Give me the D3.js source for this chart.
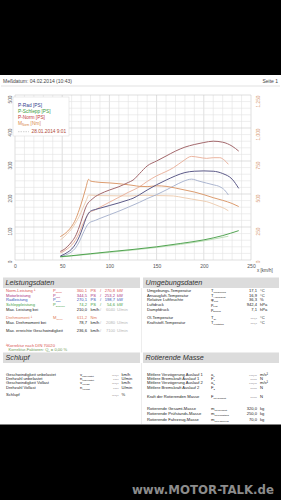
<!DOCTYPE html>
<html><head><meta charset="utf-8">
<script src="https://cdn.jsdelivr.net/npm/d3@7"></script>
<style>html,body{margin:0;padding:0;background:#000;overflow:hidden}svg{display:block;font-family:"Liberation Sans",Arial,sans-serif}</style>
</head><body><svg id="c" width="281" height="500"></svg>
<script>
// ---------- chart data ----------
const xTicks = [0, 50, 100, 150, 200, 250];
const yTicksLeft = [0, 100, 200, 300, 400, 500];
const yTicksRight = [0, 250, 500, 750, 1000, 1250];

// current run (04.02.2014)
const speedNow = [48,52,56,60,64,68,72,75,78,80,85,90,100,110,120,125,132,140,150,160,170,180,190,200,210,220,230,237];
const pNormNow = [26,32,42,55,72,100,135,160,175,180,192,200,212,222,235,242,262,285,300,315,330,342,350,356,360,357,345,330];
const pRadNow  = [12,17,24,33,48,70,100,125,142,148,153,157,165,173,182,187,198,212,228,242,255,265,269,270,269,262,245,217];
const mNormNow = [177,195,220,255,305,380,470,545,611,598,592,588,584,578,570,565,558,556,562,558,545,530,515,495,472,452,428,405];
const speedDragNow = [48,60,80,100,125,150,175,200,220,237];
const pDragNow = [10,13,19,25,32,40,50,61,74,89];

// comparison run (28.01.2014 9:01)
const speedRef = [48,52,56,60,64,68,72,76,78,85,90,100,110,120,132,140,150,160,168,178,187,195,203,210,217,222,226];
const pNormRef = [22,27,35,45,60,82,110,132,142,152,160,175,190,205,222,238,255,268,280,300,314,311,308,310,310,302,290];
const pRadRef  = [10,13,18,25,36,55,80,103,111,120,126,137,148,160,175,186,198,212,224,238,245,239,233,228,222,212,197];
const mNormRef = [152,175,205,235,280,330,395,460,492,490,488,487,486,485,489,490,488,487,485,473,462,452,442,425,405,390,373];
const speedDragRef = [48,100,150,200,226];
const pDragRef = [9,23,38,58,72];

// ---------- setup ----------
const svg = d3.select("#c");
svg.append("rect").attr("x",0).attr("y",0).attr("width",281).attr("height",500).attr("fill","#000");
svg.append("rect").attr("x",0).attr("y",75).attr("width",281).attr("height",349.5).attr("fill","#fff");

function txt(x, y, str, o = {}) {
  const s = o.size || 4.1;
  const t = svg.append("text").attr("x", x).attr("y", y).attr("font-size", s)
    .attr("fill", o.color || "#222").attr("text-anchor", o.anchor || "start");
  if (o.italic) t.attr("font-style", "italic");
  if (o.weight) t.attr("font-weight", o.weight);
  t.append("tspan").text(str);
  if (o.sub) t.append("tspan").attr("font-size", s * 0.62).attr("dy", s * 0.25).text(o.sub);
  return t;
}

// header
txt(3, 82.6, "Meßdatum: 04.02.2014 (10:43)", {size: 5, color: "#444"});
txt(278, 82.6, "Seite 1", {size: 5, color: "#444", anchor: "end"});
svg.append("line").attr("x1",1).attr("x2",280).attr("y1",86).attr("y2",86).attr("stroke","#cfcfcf").attr("stroke-width",0.6);

// scales
const x = d3.scaleLinear().domain([0, 250]).range([15, 251]);
const yL = d3.scaleLinear().domain([0, 500]).range([260, 95]);
const yR = d3.scaleLinear().domain([0, 1250]).range([260, 95]);

// grid
const grid = svg.append("g");
d3.range(0, 251, 10).forEach(v => {
  grid.append("line").attr("x1", x(v)).attr("x2", x(v)).attr("y1", yL(500)).attr("y2", yL(0))
    .attr("stroke", v % 50 === 0 ? "#c9c9c9" : "#e2e2e2").attr("stroke-width", 0.6);
});
d3.range(0, 501, 20).forEach(v => {
  grid.append("line").attr("x1", x(0)).attr("x2", x(250)).attr("y1", yL(v)).attr("y2", yL(v))
    .attr("stroke", v % 100 === 0 ? "#c9c9c9" : "#e2e2e2").attr("stroke-width", 0.6);
});

// axes
const gx = svg.append("g").attr("transform", "translate(0,264)")
  .call(d3.axisBottom(x).tickValues(xTicks).tickSize(0).tickPadding(0));
gx.select(".domain").remove();
gx.selectAll("text").attr("font-size", 5).attr("fill", "#555").attr("font-family", "Liberation Sans, Arial, sans-serif").attr("dy", "0.71em");
txt(257, 271.5, "x [km/h]", {size: 4.5, color: "#444"});

const gl = svg.append("g").attr("transform", "translate(12,0)")
  .call(d3.axisLeft(yL).tickValues(yTicksLeft).tickSize(0).tickPadding(0));
gl.select(".domain").remove();
gl.selectAll("text").attr("x", 0).attr("y", 0).attr("dy", 0).attr("text-anchor", "end")
  .attr("transform", "rotate(-90)").attr("font-size", 4.8).attr("fill", "#666")
  .attr("font-family", "Liberation Sans, Arial, sans-serif");

const gr = svg.append("g").attr("transform", "translate(260,0)")
  .call(d3.axisRight(yR).tickValues(yTicksRight).tickSize(0).tickPadding(0));
gr.select(".domain").remove();
gr.selectAll("text").attr("x", 0).attr("y", 0).attr("dy", 0).attr("text-anchor", "end")
  .attr("transform", "rotate(-90)").attr("font-size", 4.8).attr("fill", "#d8a07a")
  .attr("font-family", "Liberation Sans, Arial, sans-serif");

// curves
const lineL = d3.line().x(d => x(d[0])).y(d => yL(d[1])).curve(d3.curveMonotoneX);
const lineR = d3.line().x(d => x(d[0])).y(d => yR(d[1])).curve(d3.curveMonotoneX);
const zip = (a, b) => a.map((v, i) => [v, b[i]]);
const curves = [
  {d: zip(speedDragRef, pDragRef), f: lineL, c: "#b5dcb0", w: 0.9},
  {d: zip(speedRef, mNormRef), f: lineR, c: "#ecc9ab", w: 0.9},
  {d: zip(speedRef, pRadRef), f: lineL, c: "#a3aecb", w: 0.9},
  {d: zip(speedRef, pNormRef), f: lineL, c: "#e9ad95", w: 0.9},
  {d: zip(speedDragNow, pDragNow), f: lineL, c: "#3f9a3f", w: 0.9},
  {d: zip(speedNow, mNormNow), f: lineR, c: "#d8915f", w: 0.9},
  {d: zip(speedNow, pRadNow), f: lineL, c: "#5c5a88", w: 1},
  {d: zip(speedNow, pNormNow), f: lineL, c: "#a3686c", w: 1}
];
curves.forEach(k => svg.append("path").attr("d", k.f(k.d)).attr("fill", "none")
  .attr("stroke", k.c).attr("stroke-width", k.w).attr("stroke-linejoin", "round"));

// legend
svg.append("rect").attr("x", 13).attr("y", 97).attr("width", 56).attr("height", 39)
  .attr("fill", "#fff").attr("stroke", "#d6d6d6").attr("stroke-width", 0.5);
txt(18, 107.3, "P-Rad [PS]", {size: 4.8, color: "#34408e"});
txt(18, 113.2, "P-Schlepp [PS]", {size: 4.8, color: "#3a9a3a"});
txt(18, 119.1, "P-Norm [PS]", {size: 4.8, color: "#c23a3a"});
txt(18, 125.0, "M", {size: 4.8, color: "#d8884a", sub: "Norm"}).append("tspan").attr("dy", -1.2).text(" [Nm]");
svg.append("line").attr("x1", 18).attr("x2", 29).attr("y1", 131.7).attr("y2", 131.7)
  .attr("stroke", "#bdbdbd").attr("stroke-width", 0.7).attr("stroke-dasharray", "1.5,1");
txt(31.5, 133.3, "28.01.2014 9:01", {size: 4.8, color: "#b04a3a"});

// ---------- tables ----------
function bar(x0, w, y0, title) {
  svg.append("rect").attr("x", x0).attr("y", y0).attr("width", w).attr("height", 10.5).attr("fill", "#dcdcdc");
  txt(x0 + 2.5, y0 + 7.8, title, {size: 7.2, italic: true, color: "#333"});
}
bar(3, 137, 277.5, "Leistungsdaten");
bar(143, 136, 277.5, "Umgebungsdaten");
bar(3, 137, 352.5, "Schlupf");
bar(143, 136, 352.5, "Rotierende Masse");
svg.append("line").attr("x1", 141.5).attr("x2", 141.5).attr("y1", 288).attr("y2", 352.5).attr("stroke", "#e0e0e0").attr("stroke-width", 0.6);
svg.append("line").attr("x1", 141.5).attr("x2", 141.5).attr("y1", 363).attr("y2", 424).attr("stroke", "#e0e0e0").attr("stroke-width", 0.6);

const perfRows = [
  {y: 292.1, l: "Norm-Leistung ¹", s: "P", sb: "Norm", v1: "360,1", u1: "PS", v2: "270,8", u2: "kW", c: "#d9534f", c2: null},
  {y: 296.7, l: "Motorleistung", s: "P", sb: "Mot", v1: "344,5", u1: "PS", v2: "253,2", u2: "kW", c: "#a8327e", c2: null},
  {y: 301.3, l: "Radleistung", s: "P", sb: "Rad", v1: "270,1", u1: "PS", v2: "198,7", u2: "kW", c: "#3553b5", c2: null},
  {y: 305.9, l: "Schleppleistung", s: "P", sb: "Schlepp", v1: "74,2", u1: "PS", v2: "54,6", u2: "kW", c: "#3fa03f", c2: null},
  {y: 310.5, l: "Max. Leistung bei", s: "", sb: "", v1: "210,0", u1: "km/h", v2: "6040", u2: "U/min", c: "#222", c2: "#b5b5b5"},
  {y: 319.0, l: "Drehmoment ¹", s: "M", sb: "Norm", v1: "611,2", u1: "Nm", v2: "", u2: "", c: "#e07a5a", c2: null},
  {y: 323.6, l: "Max. Drehmoment bei", s: "", sb: "", v1: "78,7", u1: "km/h", v2: "2080", u2: "U/min", c: "#222", c2: "#b5b5b5"},
  {y: 332.3, l: "Max. erreichte Geschwindigkeit", s: "", sb: "", v1: "236,6", u1: "km/h", v2: "7100", u2: "U/min", c: "#222", c2: "#b5b5b5"}
];
perfRows.forEach(r => {
  txt(6, r.y, r.l, {color: r.c});
  if (r.s) txt(53, r.y, r.s, {color: r.c, sub: r.sb});
  txt(87, r.y, r.v1, {color: r.c, anchor: "end"});
  txt(90.5, r.y, r.u1, {color: r.c});
  if (r.v2) {
    const c2 = r.c2 || r.c;
    txt(100, r.y, "/", {color: c2});
    txt(115, r.y, r.v2, {color: c2, anchor: "end"});
    txt(117, r.y, r.u2, {color: c2});
  }
});
txt(6, 346.6, "¹Korrektur nach DIN 70020", {color: "#d9534f"});
txt(8.5, 351.4, "Korrektur-Faktoren: Q", {color: "#6f9a55", sub: "0"}).append("tspan").attr("dy", -1).text(" =   0,00 %");

const envRows = [
  {y: 292.1, l: "Umgebungs-Temperatur", s: "T", sb: "Umgebung", v: "17,1", u: "°C"},
  {y: 296.7, l: "Ansaugluft-Temperatur", s: "T", sb: "Ansaugluft", v: "16,9", u: "°C"},
  {y: 301.3, l: "Relative Luftfeuchte", s: "φ", sb: "Luft", v: "36,3", u: "%"},
  {y: 305.9, l: "Luftdruck", s: "p", sb: "Luft", v: "942,4", u: "hPa"},
  {y: 310.5, l: "Dampfdruck", s: "p", sb: "Dampf", v: "7,1", u: "hPa"},
  {y: 319.0, l: "Öl-Temperatur", s: "T", sb: "Öl", v: "---,-", u: "°C"},
  {y: 323.6, l: "Kraftstoff-Temperatur", s: "T", sb: "Kraftstoff", v: "---,-", u: "°C"}
];
envRows.forEach(r => {
  txt(147, r.y, r.l);
  txt(211, r.y, r.s, {sub: r.sb});
  txt(257, r.y, r.v, {anchor: "end"});
  txt(260, r.y, r.u);
});

const slipRows = [
  {y: 375.5, l: "Geschwindigkeit unbelastet", s: "v", sb: "unbelastet", v: "---,-", u: "km/h"},
  {y: 379.9, l: "Drehzahl unbelastet", s: "n", sb: "unbelastet", v: "----", u: "U/min"},
  {y: 384.3, l: "Geschwindigkeit Vollast", s: "v", sb: "Vollast", v: "---,-", u: "km/h"},
  {y: 388.7, l: "Drehzahl Vollast", s: "n", sb: "Vollast", v: "----", u: "U/min"},
  {y: 395.5, l: "Schlupf", s: "", sb: "", v: "---,-", u: "%"}
];
slipRows.forEach(r => {
  txt(6, r.y, r.l);
  if (r.s) txt(80, r.y, r.s, {sub: r.sb});
  txt(118.5, r.y, r.v, {anchor: "end"});
  txt(121.5, r.y, r.u);
});

const rotRows = [
  {y: 375.5, l: "Mittlere Verzögerung Auslauf 1", s: "a", sb: "1", v: "---,--", u: "m/s²"},
  {y: 379.9, l: "Mittlere Bremskraft Auslauf 1", s: "F", sb: "1", v: "-----", u: "N"},
  {y: 384.3, l: "Mittlere Verzögerung Auslauf 2", s: "a", sb: "2", v: "---,--", u: "m/s²"},
  {y: 388.7, l: "Mittlere Bremskraft Auslauf 2", s: "F", sb: "2", v: "-----", u: "N"},
  {y: 397.5, l: "Kraft der Rotierenden Masse", s: "F", sb: "rot,Gesamt", v: "-----", u: "N"},
  {y: 410.0, l: "Rotierende Gesamt-Masse", s: "m", sb: "rot,Gesamt", v: "320,0", u: "kg"},
  {y: 415.4, l: "Rotierende Prüfstands-Masse", s: "m", sb: "rot,Prüfstand", v: "250,0", u: "kg"},
  {y: 420.8, l: "Rotierende Fahrzeug-Masse", s: "m", sb: "rot,Fahrzeug", v: "70,0", u: "kg"}
];
rotRows.forEach(r => {
  txt(147, r.y, r.l);
  txt(211, r.y, r.s, {sub: r.sb});
  txt(257, r.y, r.v, {anchor: "end"});
  txt(260, r.y, r.u);
});

// watermark
svg.append("text").attr("x", 132).attr("y", 493.5).attr("font-size", 12)
  .attr("font-family", "DejaVu Sans, sans-serif").attr("font-weight", "bold")
  .attr("fill", "#8c8c8c").attr("textLength", 142).attr("lengthAdjust", "spacingAndGlyphs")
  .text("www.MOTOR-TALK.de");
</script></body></html>
